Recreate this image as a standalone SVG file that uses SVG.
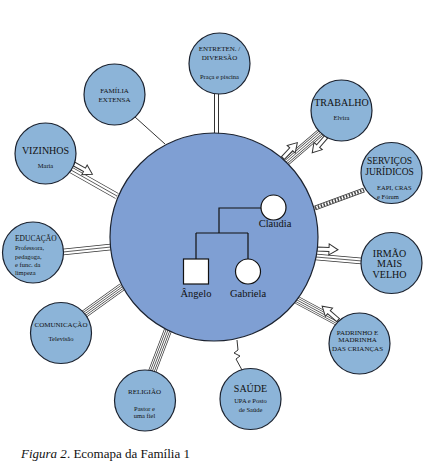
<svg xmlns="http://www.w3.org/2000/svg" width="425" height="467" viewBox="0 0 425 467">
<style>
.bg{fill:#ffffff}
.main{fill:#7f9fd3;stroke:#1c2330;stroke-width:1.2}
.sat{fill:#8cb4d8;stroke:#1c2330;stroke-width:1.2}
.t{font-family:'Liberation Serif','Times New Roman','DejaVu Serif',serif;fill:#111;text-anchor:middle}
.tl{font-family:'Liberation Serif','Times New Roman','DejaVu Serif',serif;fill:#111}
.k{fill:none;stroke:#333;stroke-linecap:butt}
.w{fill:none;stroke:#ffffff;stroke-linecap:butt}
.arrow{fill:#ffffff;stroke:#333;stroke-width:1;stroke-linejoin:miter}
.fam{fill:#ffffff;stroke:#111;stroke-width:1.2}
.fl{fill:none;stroke:#111;stroke-width:1.2}
</style>
<defs>
<path id="arr" d="M0,-2 L12,-2 L12,-5.5 L21,0 L12,5.5 L12,2 L0,2 Z"/>
</defs>
<rect class="bg" x="0" y="0" width="425" height="467"/>

<g id="connectors">
  <line x1="135" y1="117" x2="165" y2="144" stroke="#333" stroke-width="1"/>
  <g>
    <line class="k" x1="216.5" y1="94" x2="216.5" y2="134" stroke-width="5"/>
    <line class="w" x1="216.5" y1="94" x2="216.5" y2="134" stroke-width="3"/>
  </g>
  <g>
    <line class="k" x1="285" y1="163" x2="321" y2="132" stroke-width="8"/>
    <line class="w" x1="285" y1="163" x2="321" y2="132" stroke-width="6.6"/>
    <line class="k" x1="285" y1="163" x2="321" y2="132" stroke-width="4.6"/>
    <line class="w" x1="285" y1="163" x2="321" y2="132" stroke-width="3.2"/>
    <line class="k" x1="285" y1="163" x2="321" y2="132" stroke-width="0.8"/>
  </g>
  <use href="#arr" class="arrow" transform="translate(283,158) rotate(-47)"/>
  <use href="#arr" class="arrow" transform="translate(326,137) rotate(131)"/>
  <g>
    <line class="k" x1="71" y1="170" x2="117" y2="196" stroke-width="6.5"/>
    <line class="w" x1="71" y1="170" x2="117" y2="196" stroke-width="5"/>
    <line class="k" x1="71" y1="170" x2="117" y2="196" stroke-width="0.8"/>
  </g>
  <use href="#arr" class="arrow" transform="translate(74,164) rotate(29)"/>
  <g>
    <line class="k" x1="315" y1="208" x2="364" y2="190" stroke-width="4.6"/>
    <line class="w" x1="315" y1="208" x2="364" y2="190" stroke-width="3"/>
    <line x1="315" y1="208" x2="364" y2="190" stroke="#444" stroke-width="3" stroke-dasharray="1.5 1.5"/>
  </g>
  <g>
    <line class="k" x1="316" y1="257" x2="362" y2="261" stroke-width="6.5"/>
    <line class="w" x1="316" y1="257" x2="362" y2="261" stroke-width="5"/>
    <line class="k" x1="316" y1="257" x2="362" y2="261" stroke-width="0.8"/>
  </g>
  <use href="#arr" class="arrow" transform="translate(317,249) rotate(2)"/>
  <g>
    <line class="k" x1="297" y1="300" x2="338" y2="322" stroke-width="8"/>
    <line class="w" x1="297" y1="300" x2="338" y2="322" stroke-width="6.6"/>
    <line class="k" x1="297" y1="300" x2="338" y2="322" stroke-width="4.6"/>
    <line class="w" x1="297" y1="300" x2="338" y2="322" stroke-width="3.2"/>
    <line class="k" x1="297" y1="300" x2="338" y2="322" stroke-width="0.8"/>
  </g>
  <use href="#arr" class="arrow" transform="translate(338,320) rotate(-139)"/>
  <polyline points="237,340 238,350 234,353 240,356 236,359 242,370" fill="none" stroke="#333" stroke-width="1"/>
  <g>
    <line class="k" x1="152" y1="372" x2="168" y2="330" stroke-width="8"/>
    <line class="w" x1="152" y1="372" x2="168" y2="330" stroke-width="6.6"/>
    <line class="k" x1="152" y1="372" x2="168" y2="330" stroke-width="4.6"/>
    <line class="w" x1="152" y1="372" x2="168" y2="330" stroke-width="3.2"/>
    <line class="k" x1="152" y1="372" x2="168" y2="330" stroke-width="0.8"/>
  </g>
  <g>
    <line class="k" x1="83" y1="315" x2="122" y2="287" stroke-width="8"/>
    <line class="w" x1="83" y1="315" x2="122" y2="287" stroke-width="6.6"/>
    <line class="k" x1="83" y1="315" x2="122" y2="287" stroke-width="4.6"/>
    <line class="w" x1="83" y1="315" x2="122" y2="287" stroke-width="3.2"/>
    <line class="k" x1="83" y1="315" x2="122" y2="287" stroke-width="0.8"/>
  </g>
  <g>
    <line class="k" x1="63" y1="252" x2="111" y2="247" stroke-width="6.5"/>
    <line class="w" x1="63" y1="252" x2="111" y2="247" stroke-width="5"/>
    <line class="k" x1="63" y1="252" x2="111" y2="247" stroke-width="0.8"/>
  </g>
</g>

<g id="familia">
  <circle class="main" cx="214" cy="237" r="104"/>
  <path class="fl" d="M261,208 H219 V233 M196,233 H248 M196,233 V259 M248,233 V259"/>
  <circle class="fam" cx="273.5" cy="207.5" r="12.5"/>
  <rect class="fam" x="183.5" y="259" width="25" height="25"/>
  <circle class="fam" cx="248" cy="271.5" r="12.5"/>
  <text class="t" x="275" y="227" font-size="10.5">Claudia</text>
  <text class="t" x="196" y="297" font-size="10.5">Ângelo</text>
  <text class="t" x="248" y="297" font-size="10.5">Gabriela</text>
</g>

<g id="familia-extensa">
  <circle class="sat" cx="114.5" cy="94.5" r="30.5"/>
  <text class="t" x="114.5" y="93" font-size="7">FAMÍLIA</text>
  <text class="t" x="114.5" y="102" font-size="7">EXTENSA</text>
</g>
<g id="entretenimento">
  <circle class="sat" cx="219.5" cy="63.5" r="30.5"/>
  <text class="t" x="219.5" y="50.5" font-size="7">ENTRETEN. /</text>
  <text class="t" x="219.5" y="59.5" font-size="7">DIVERSÃO</text>
  <text class="t" x="219.5" y="78.5" font-size="6.5">Praça e piscina</text>
</g>
<g id="trabalho">
  <circle class="sat" cx="341.5" cy="110.5" r="30.5"/>
  <text class="t" x="341.5" y="105.5" font-size="10">TRABALHO</text>
  <text class="t" x="341.5" y="119.5" font-size="6.5">Elvira</text>
</g>
<g id="vizinhos">
  <circle class="sat" cx="45.5" cy="153.5" r="30.5"/>
  <text class="t" x="45.5" y="153.5" font-size="10">VIZINHOS</text>
  <text class="t" x="45.5" y="167.5" font-size="6.5">Maria</text>
</g>
<g id="servicos-juridicos">
  <circle class="sat" cx="391.5" cy="173" r="30.5"/>
  <text class="t" x="389.5" y="163.5" font-size="9.5">SERVIÇOS</text>
  <text class="t" x="389.5" y="174.5" font-size="9.5">JURÍDICOS</text>
  <text class="tl" x="377" y="190" font-size="6.5">EAPI, CRAS</text>
  <text class="tl" x="377" y="199" font-size="6.5">e Fórum</text>
</g>
<g id="educacao">
  <circle class="sat" cx="33" cy="252.5" r="30.5"/>
  <text class="tl" x="15" y="241" font-size="7.5">EDUCAÇÃO</text>
  <text class="tl" x="15" y="250" font-size="6.5">Professora,</text>
  <text class="tl" x="15" y="258.5" font-size="6.5">pedagoga,</text>
  <text class="tl" x="15" y="267" font-size="6.5">e func. da</text>
  <text class="tl" x="15" y="275" font-size="6.5">limpeza</text>
</g>
<g id="irmao">
  <circle class="sat" cx="391.5" cy="263" r="30.5"/>
  <text class="t" x="389.5" y="256.5" font-size="10">IRMÃO</text>
  <text class="t" x="389.5" y="266.5" font-size="10">MAIS</text>
  <text class="t" x="389.5" y="277.5" font-size="10">VELHO</text>
</g>
<g id="comunicacao">
  <circle class="sat" cx="61" cy="333" r="30.5"/>
  <text class="t" x="61" y="326.5" font-size="7">COMUNICAÇÃO</text>
  <text class="t" x="61" y="340.5" font-size="6.5">Televisão</text>
</g>
<g id="padrinho">
  <circle class="sat" cx="359.5" cy="343.5" r="30.5"/>
  <text class="t" x="357.5" y="334.5" font-size="7">PADRINHO E</text>
  <text class="t" x="357.5" y="342" font-size="7">MADRINHA</text>
  <text class="t" x="357.5" y="350.5" font-size="7">DAS CRIANÇAS</text>
</g>
<g id="religiao">
  <circle class="sat" cx="145" cy="400.5" r="30.5"/>
  <text class="t" x="144.5" y="393.5" font-size="7">RELIGIÃO</text>
  <text class="t" x="144.5" y="410.5" font-size="6.5">Pastor e</text>
  <text class="t" x="144.5" y="417.5" font-size="6.5">uma fiel</text>
</g>
<g id="saude">
  <circle class="sat" cx="250.5" cy="399" r="30.5"/>
  <text class="t" x="250.5" y="391.5" font-size="10">SAÚDE</text>
  <text class="t" x="250.5" y="402.5" font-size="6.5">UPA e Posto</text>
  <text class="t" x="250.5" y="411.5" font-size="6.5">de Saúde</text>
</g>

<text class="tl" x="21" y="458" font-size="13"><tspan font-style="italic">Figura 2</tspan>. Ecomapa da Família 1</text>
</svg>
